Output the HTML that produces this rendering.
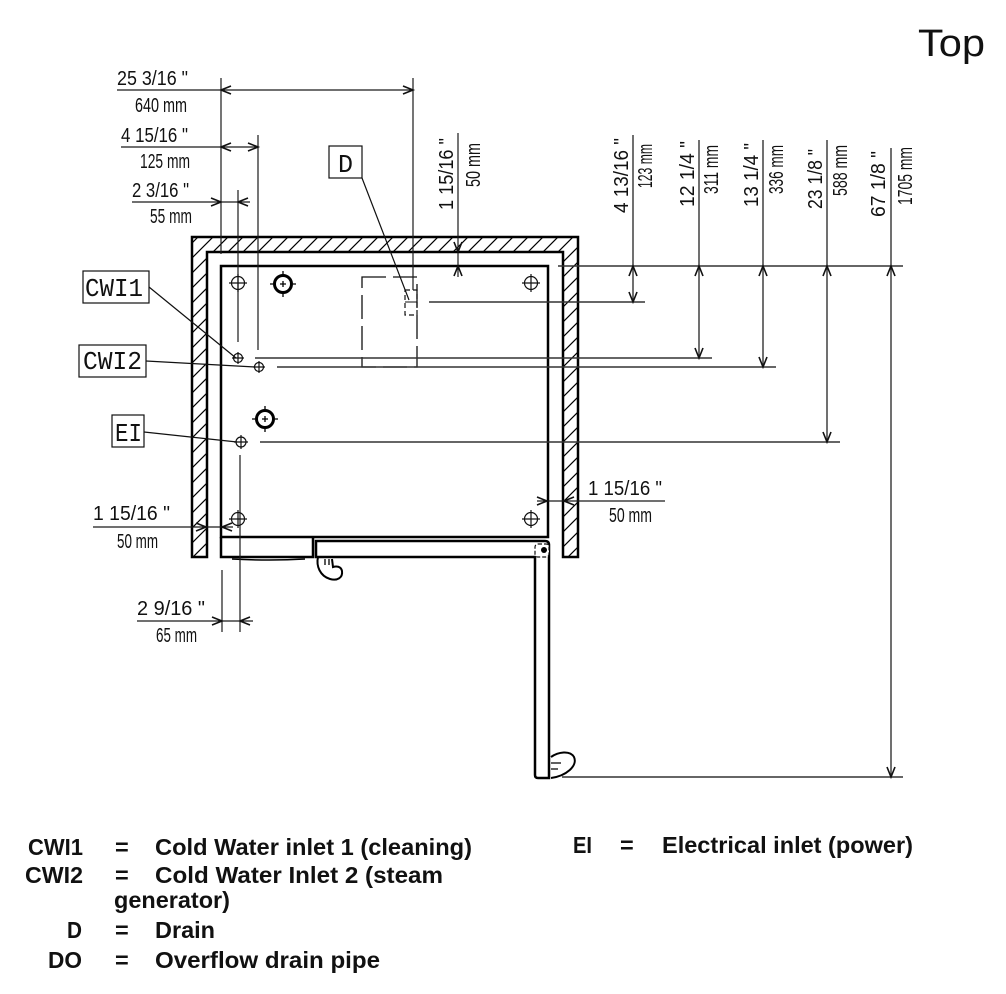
<!DOCTYPE html>
<html>
<head>
<meta charset="utf-8">
<style>
  html,body{margin:0;padding:0;background:#fff;}
  svg{display:block;}
  .dim{font-family:"Liberation Sans",sans-serif;font-size:20px;fill:#111;}
  .lbl{font-family:"Liberation Mono",monospace;font-size:26px;fill:#111;}
  .leg{font-family:"Liberation Sans",sans-serif;font-size:23.5px;font-weight:bold;fill:#111;}
  .t{stroke:#1a1a1a;stroke-width:1.2;fill:none;}
  .tg{stroke:#333;stroke-width:1.4;fill:none;}
  .k{stroke:#000;stroke-width:2.5;fill:none;}
  .ar{stroke:#111;stroke-width:1.6;fill:none;}
</style>
</head>
<body>
<svg width="1006" height="994" viewBox="0 0 1006 994" xmlns="http://www.w3.org/2000/svg">
<defs>
  <pattern id="h" patternUnits="userSpaceOnUse" width="15" height="15">
    <path d="M0,15 L15,0 M-2,2 L2,-2 M13,17 L17,13" stroke="#000" stroke-width="1.2"/>
  </pattern>
</defs>
<rect width="1006" height="994" fill="#fff"/>

<!-- Title -->
<text x="918" y="56" font-family="Liberation Sans, sans-serif" font-size="38" fill="#111" textLength="67" lengthAdjust="spacingAndGlyphs">Top</text>

<!-- Wall (hatched U) -->
<path d="M192,557 L192,237 L578,237 L578,557 L563,557 L563,252 L207,252 L207,557 Z" fill="url(#h)" stroke="#000" stroke-width="2.5"/>

<!-- Cabinet -->
<rect x="221" y="266" width="327" height="271" class="k"/>
<path d="M221,537 L221,557 L313,557 L313,537" class="k"/>
<path d="M232,559 Q270,561 305,559" stroke="#000" stroke-width="1.5" fill="none"/>

<!-- Door -->
<path d="M316,557 L316,541 L545,541 Q549,541 549,545 L549,778 L538,778 Q535,778 535,775 L535,557 Z" class="k"/>
<rect x="535" y="544" width="14" height="13" rx="3" fill="#fff" stroke="#111" stroke-width="1.2" stroke-dasharray="4 2"/>
<circle cx="544" cy="550" r="3" fill="#000"/>
<!-- hook handle top -->
<path d="M318,557 C316,566 320,576 330,579 C337,581 343,578 342,571 C341,566 336,566 333,567 L332,559" stroke="#000" stroke-width="2" fill="none"/>
<path d="M325,559 L325,565 M329,559 L329,565" stroke="#000" stroke-width="1.3"/>
<!-- handle bottom -->
<path d="M551,757 C558,752 570,750 574,757 C578,766 566,776 551,778" stroke="#000" stroke-width="2" fill="none"/>
<path d="M551,763 L561,763 M551,769 L558,769" stroke="#000" stroke-width="1.3"/>

<!-- Drain dashed -->
<rect x="362" y="277" width="55" height="90" fill="none" stroke="#111" stroke-width="1.3" stroke-dasharray="24 7"/>
<rect x="405" y="290" width="12" height="25" fill="none" stroke="#111" stroke-width="1.2" stroke-dasharray="5 3"/>
<path d="M405,302 L417,302" stroke="#111" stroke-width="1"/>

<!-- Extension / dimension lines -->
<path class="t" d="M117,90 L413,90 M121,147 L258,147 M132,202 L250,202
 M221,78 L221,254 M413,78 L413,290 M258,135 L258,350 M238,190 L238,342
 M93,527 L233,527 M137,621 L253,621 M240,455 L240,632 M222,570 L222,632
 M537,501 L665,501 M458,133 L458,277"/>
<path class="tg" d="M558,266 L903,266 M429,302 L645,302 M255,358 L712,358 M277,367 L776,367 M260,442 L840,442 M562,777 L903,777
 M633,135 L633,302 M699,140 L699,358 M763,140 L763,367 M827,140 L827,442 M891,148 L891,777"/>

<!-- Arrowheads -->
<path class="ar" d="
 M231,86 L221,90 L231,94  M403,86 L413,90 L403,94
 M231,143 L221,147 L231,151  M248,143 L258,147 L248,151
 M211,198 L221,202 L211,206  M248,198 L238,202 L248,206
 M196,523 L206,527 L196,531  M232,523 L222,527 L232,531
 M212,617 L222,621 L212,625  M250,617 L240,621 L250,625
 M537,497 L547,501 L537,505  M574,497 L564,501 L574,505
 M454,242 L458,252 L462,242  M454,276 L458,266 L462,276
 M629,276 L633,266 L637,276  M629,292 L633,302 L637,292
 M695,276 L699,266 L703,276  M695,348 L699,358 L703,348
 M759,276 L763,266 L767,276  M759,357 L763,367 L767,357
 M823,276 L827,266 L831,276  M823,432 L827,442 L831,432
 M887,276 L891,266 L895,276  M887,767 L891,777 L895,767"/>

<!-- Small crosshair circles -->
<g stroke="#111" stroke-width="1.2" fill="none">
  <circle cx="238" cy="283" r="6.5"/><path d="M229,283 L247,283 M238,274 L238,292"/>
  <circle cx="531" cy="283" r="6.5"/><path d="M522,283 L540,283 M531,274 L531,292"/>
  <circle cx="238" cy="358" r="4.5"/><path d="M232,358 L244,358 M238,352 L238,364"/>
  <circle cx="259" cy="367" r="4.5"/><path d="M253,367 L265,367 M259,361 L259,373"/>
  <circle cx="241" cy="442" r="5"/><path d="M234,442 L248,442 M241,435 L241,449"/>
  <circle cx="238" cy="519" r="6.5"/><path d="M229,519 L247,519 M238,510 L238,528"/>
  <circle cx="531" cy="519" r="6.5"/><path d="M522,519 L540,519 M531,510 L531,528"/>
</g>
<!-- Thick circles -->
<g stroke="#000" fill="none">
  <circle cx="283" cy="284" r="8.5" stroke-width="3"/>
  <path d="M280,284 L286,284 M283,281 L283,287 M283,271 L283,274 M283,294 L283,297 M270,284 L273,284 M293,284 L296,284" stroke-width="1.3"/>
  <circle cx="265" cy="419" r="8.5" stroke-width="3"/>
  <path d="M262,419 L268,419 M265,416 L265,422 M265,406 L265,409 M265,429 L265,432 M252,419 L255,419 M275,419 L278,419" stroke-width="1.3"/>
</g>

<!-- Label boxes and leaders -->
<g stroke="#111" stroke-width="1.2">
  <path d="M362,178 L409,300 M149,287 L236,358 M146,361 L255,367 M144,432 L237,442" fill="none"/>
  <rect x="329" y="146" width="33" height="32" fill="#fff"/>
  <rect x="83" y="271" width="66" height="32" fill="#fff"/>
  <rect x="79" y="345" width="67" height="32" fill="#fff"/>
  <rect x="112" y="415" width="32" height="32" fill="#fff"/>
</g>
<text class="lbl" x="338" y="172" textLength="15" lengthAdjust="spacingAndGlyphs">D</text>
<text class="lbl" x="85" y="296" textLength="58" lengthAdjust="spacingAndGlyphs">CWI1</text>
<text class="lbl" x="83" y="369" textLength="59" lengthAdjust="spacingAndGlyphs">CWI2</text>
<text class="lbl" x="115" y="441" textLength="27" lengthAdjust="spacingAndGlyphs">EI</text>

<!-- Horizontal dimension texts -->
<text class="dim" x="117" y="85" textLength="71" lengthAdjust="spacingAndGlyphs">25 3/16 "</text>
<text class="dim" x="135" y="112" textLength="52" lengthAdjust="spacingAndGlyphs">640 mm</text>
<text class="dim" x="121" y="142" textLength="67" lengthAdjust="spacingAndGlyphs">4 15/16 "</text>
<text class="dim" x="140" y="168" textLength="50" lengthAdjust="spacingAndGlyphs">125 mm</text>
<text class="dim" x="132" y="197" textLength="57" lengthAdjust="spacingAndGlyphs">2 3/16 "</text>
<text class="dim" x="150" y="223" textLength="42" lengthAdjust="spacingAndGlyphs">55 mm</text>
<text class="dim" x="93" y="520" textLength="77" lengthAdjust="spacingAndGlyphs">1 15/16 "</text>
<text class="dim" x="117" y="548" textLength="41" lengthAdjust="spacingAndGlyphs">50 mm</text>
<text class="dim" x="137" y="615" textLength="68" lengthAdjust="spacingAndGlyphs">2 9/16 "</text>
<text class="dim" x="156" y="642" textLength="41" lengthAdjust="spacingAndGlyphs">65 mm</text>
<text class="dim" x="588" y="495" textLength="74" lengthAdjust="spacingAndGlyphs">1 15/16 "</text>
<text class="dim" x="609" y="522" textLength="43" lengthAdjust="spacingAndGlyphs">50 mm</text>

<!-- Vertical dimension texts -->
<text class="dim" transform="translate(453,210) rotate(-90)" textLength="72" lengthAdjust="spacingAndGlyphs">1 15/16 "</text>
<text class="dim" transform="translate(480,187) rotate(-90)" textLength="44" lengthAdjust="spacingAndGlyphs">50 mm</text>
<text class="dim" transform="translate(628,213) rotate(-90)" textLength="75" lengthAdjust="spacingAndGlyphs">4 13/16 "</text>
<text class="dim" transform="translate(652,188) rotate(-90)" textLength="44" lengthAdjust="spacingAndGlyphs">123 mm</text>
<text class="dim" transform="translate(694,207) rotate(-90)" textLength="66" lengthAdjust="spacingAndGlyphs">12 1/4 "</text>
<text class="dim" transform="translate(718,194) rotate(-90)" textLength="49" lengthAdjust="spacingAndGlyphs">311 mm</text>
<text class="dim" transform="translate(758,207) rotate(-90)" textLength="64" lengthAdjust="spacingAndGlyphs">13 1/4 "</text>
<text class="dim" transform="translate(783,194) rotate(-90)" textLength="49" lengthAdjust="spacingAndGlyphs">336 mm</text>
<text class="dim" transform="translate(822,209) rotate(-90)" textLength="60" lengthAdjust="spacingAndGlyphs">23 1/8 "</text>
<text class="dim" transform="translate(847,196) rotate(-90)" textLength="51" lengthAdjust="spacingAndGlyphs">588 mm</text>
<text class="dim" transform="translate(885,217) rotate(-90)" textLength="66" lengthAdjust="spacingAndGlyphs">67 1/8 "</text>
<text class="dim" transform="translate(912,205) rotate(-90)" textLength="58" lengthAdjust="spacingAndGlyphs">1705 mm</text>

<!-- Legend -->
<text class="leg" x="28" y="855" textLength="55" lengthAdjust="spacingAndGlyphs">CWI1</text>
<text class="leg" x="115" y="855">=</text>
<text class="leg" x="155" y="855" textLength="317" lengthAdjust="spacingAndGlyphs">Cold Water inlet 1 (cleaning)</text>

<text class="leg" x="25" y="883" textLength="58" lengthAdjust="spacingAndGlyphs">CWI2</text>
<text class="leg" x="115" y="883">=</text>
<text class="leg" x="155" y="883" textLength="288" lengthAdjust="spacingAndGlyphs">Cold Water Inlet 2 (steam</text>
<text class="leg" x="114" y="908" textLength="116" lengthAdjust="spacingAndGlyphs">generator)</text>

<text class="leg" x="67" y="938" textLength="15" lengthAdjust="spacingAndGlyphs">D</text>
<text class="leg" x="115" y="938">=</text>
<text class="leg" x="155" y="938" textLength="60" lengthAdjust="spacingAndGlyphs">Drain</text>

<text class="leg" x="48" y="968" textLength="34" lengthAdjust="spacingAndGlyphs">DO</text>
<text class="leg" x="115" y="968">=</text>
<text class="leg" x="155" y="968" textLength="225" lengthAdjust="spacingAndGlyphs">Overflow drain pipe</text>

<text class="leg" x="573" y="853" textLength="19" lengthAdjust="spacingAndGlyphs">EI</text>
<text class="leg" x="620" y="853">=</text>
<text class="leg" x="662" y="853" textLength="251" lengthAdjust="spacingAndGlyphs">Electrical inlet (power)</text>
</svg>
</body>
</html>
